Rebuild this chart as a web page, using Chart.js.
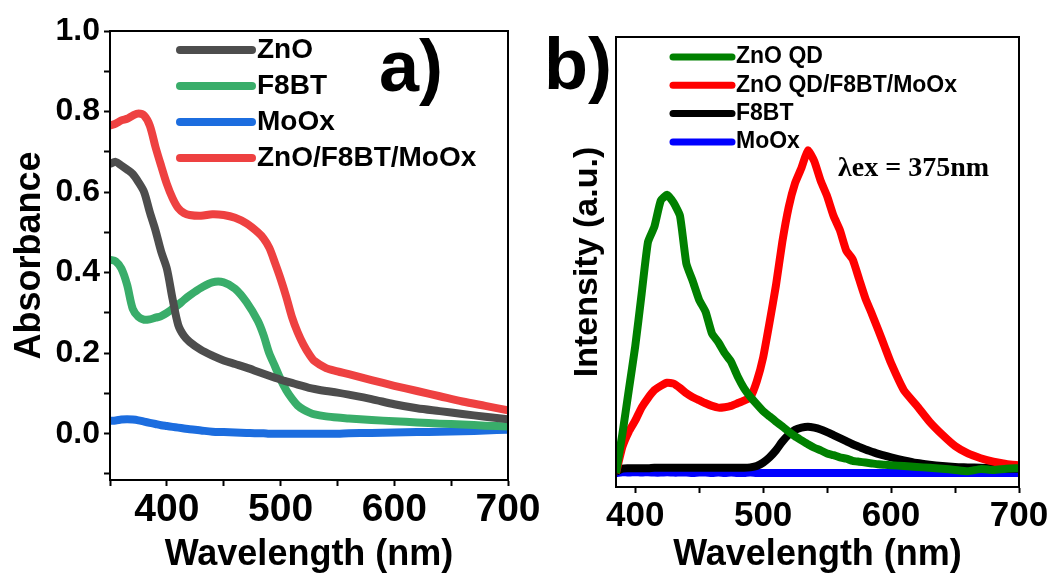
<!DOCTYPE html>
<html>
<head>
<meta charset="utf-8">
<script src="https://cdn.jsdelivr.net/npm/chart.js@4.4.0/dist/chart.umd.min.js"></script>
<style>
  body { margin: 0; background: #fff; }
  #wrap { position: relative; width: 1051px; height: 573px; overflow: hidden; }
  canvas { position: absolute; top: 0; }
  #absChart { left: 0; }
  #plChart { left: 530px; }
</style>
</head>
<body>
<div id="wrap">
  <canvas id="absChart" width="560" height="573"></canvas>
  <canvas id="plChart" width="521" height="573"></canvas>
</div>
<script>
// ---- panel a) absorbance ----
const absWavelength = [350, 355, 360, 365, 370, 375, 380, 385, 390, 395, 400, 405, 410, 415, 420,
  430, 440, 450, 460, 470, 480, 485, 490, 495, 500, 505, 510, 515, 520, 525, 530,
  540, 550, 560, 580, 600, 620, 640, 660, 680, 700];
const absZnO = [0.670, 0.675, 0.666, 0.656, 0.645, 0.625, 0.600, 0.550, 0.505, 0.452, 0.410, 0.335, 0.270, 0.243, 0.228,
  0.208, 0.194, 0.182, 0.173, 0.164, 0.154, 0.149, 0.144, 0.139, 0.134, 0.130, 0.126, 0.122, 0.118, 0.114, 0.111,
  0.106, 0.102, 0.097, 0.086, 0.073, 0.063, 0.056, 0.049, 0.042, 0.036];
const absF8BT = [0.432, 0.428, 0.410, 0.370, 0.310, 0.290, 0.283, 0.284, 0.288, 0.292, 0.300, 0.310, 0.320, 0.332, 0.343,
  0.362, 0.376, 0.376, 0.360, 0.327, 0.280, 0.245, 0.200, 0.168, 0.135, 0.108, 0.087, 0.070, 0.060, 0.053, 0.048,
  0.043, 0.040, 0.038, 0.034, 0.031, 0.028, 0.025, 0.023, 0.020, 0.018];
const absMoOx = [0.032, 0.033, 0.035, 0.036, 0.035, 0.033, 0.030, 0.027, 0.024, 0.021, 0.019, 0.017, 0.015, 0.013, 0.011,
  0.008, 0.005, 0.004, 0.003, 0.002, 0.001, 0.001, 0.000, 0.000, 0.000, 0.000, 0.000, 0.000, 0.000, 0.000, 0.000,
  0.000, 0.000, 0.001, 0.002, 0.003, 0.004, 0.005, 0.006, 0.008, 0.010];
const absStack = [0.765, 0.770, 0.778, 0.782, 0.790, 0.795, 0.790, 0.765, 0.712, 0.665, 0.620, 0.585, 0.560, 0.548, 0.543,
  0.541, 0.545, 0.543, 0.536, 0.522, 0.500, 0.485, 0.462, 0.425, 0.385, 0.340, 0.290, 0.252, 0.222, 0.198, 0.180,
  0.163, 0.155, 0.148, 0.133, 0.119, 0.106, 0.093, 0.080, 0.069, 0.058];

// ---- panel b) photoluminescence ----
const plWavelength = [385, 390, 395, 400, 405, 410, 415, 420, 425, 430, 435, 440, 445, 450, 455, 460, 465, 470, 475, 480,
  485, 490, 495, 500, 505, 510, 515, 520, 525, 530, 535, 540, 545, 550, 555, 560, 565, 570, 575, 580,
  585, 590, 595, 600, 610, 620, 630, 640, 650, 660, 670, 680, 690, 700];
const plZnOQD = [0.000, 0.090, 0.190, 0.290, 0.410, 0.530, 0.565, 0.625, 0.638, 0.620, 0.590, 0.480, 0.440, 0.397, 0.370, 0.320, 0.300, 0.275, 0.255, 0.222,
  0.195, 0.175, 0.158, 0.142, 0.130, 0.118, 0.107, 0.095, 0.084, 0.075, 0.066, 0.058, 0.052, 0.045, 0.041, 0.036, 0.033, 0.028, 0.026, 0.024,
  0.022, 0.020, 0.019, 0.018, 0.016, 0.014, 0.012, 0.010, 0.007, 0.004, 0.009, 0.007, 0.010, 0.011];
const plStack = [0.000, 0.060, 0.095, 0.120, 0.150, 0.172, 0.190, 0.200, 0.207, 0.205, 0.195, 0.183, 0.174, 0.167, 0.160, 0.154, 0.150, 0.151, 0.154, 0.160,
  0.166, 0.174, 0.210, 0.265, 0.345, 0.430, 0.530, 0.610, 0.665, 0.700, 0.740, 0.715, 0.670, 0.635, 0.590, 0.557, 0.510, 0.490, 0.445, 0.400,
  0.365, 0.328, 0.290, 0.252, 0.190, 0.155, 0.118, 0.088, 0.062, 0.045, 0.034, 0.026, 0.021, 0.018];
const plF8BT = [0.003, 0.010, 0.011, 0.011, 0.011, 0.011, 0.012, 0.012, 0.012, 0.012, 0.012, 0.012, 0.012, 0.012, 0.012, 0.012, 0.012, 0.012, 0.012, 0.012,
  0.012, 0.013, 0.016, 0.024, 0.036, 0.052, 0.072, 0.088, 0.099, 0.104, 0.106, 0.104, 0.100, 0.094, 0.087, 0.080, 0.073, 0.066, 0.060, 0.054,
  0.049, 0.044, 0.040, 0.036, 0.029, 0.023, 0.019, 0.016, 0.014, 0.013, 0.012, 0.011, 0.010, 0.010];
const plMoOx = [0.000, 0.002, 0.001, 0.002, 0.001, 0.002, 0.001, 0.001, 0.002, 0.001, 0.001, 0.001, 0.000, 0.001, 0.001, 0.000, 0.001, 0.000, 0.001, 0.000,
  0.000, 0.001, 0.000, 0.000, 0.000, 0.000, 0.000, 0.000, 0.000, 0.000, 0.000, 0.000, 0.000, 0.000, 0.000, 0.000, 0.000, 0.000, 0.000, 0.000,
  0.000, 0.000, 0.000, 0.000, 0.000, 0.000, 0.000, 0.000, 0.000, 0.000, 0.000, 0.000, 0.000, 0.000];

const SANS = '"Liberation Sans", Arial, sans-serif';
const SERIF = '"Liberation Serif", "Times New Roman", serif';

const pts = (xs, ys) => xs.map((x, i) => ({ x: x, y: ys[i] }));

function line(label, xs, ys, color, width, tension) {
  return {
    label: label,
    data: pts(xs, ys),
    borderColor: color,
    borderWidth: width,
    pointRadius: 0,
    tension: tension,
    fill: false
  };
}

// frame, in-plot legend, panel tag and note
const panelDecor = {
  id: 'panelDecor',
  afterDraw(chart, args, o) {
    const ctx = chart.ctx;
    const a = chart.chartArea;
    ctx.save();
    ctx.strokeStyle = '#000';
    ctx.lineWidth = 2;
    ctx.strokeRect(a.left, a.top, a.right - a.left, a.bottom - a.top);

    ctx.lineCap = 'round';
    ctx.textBaseline = 'middle';
    ctx.font = 'bold ' + o.legendSize + 'px ' + SANS;
    chart.data.datasets.forEach((ds, i) => {
      const y = o.legendY + i * o.legendGap;
      ctx.strokeStyle = ds.borderColor;
      ctx.lineWidth = o.legendWidth;
      ctx.beginPath();
      ctx.moveTo(o.legendX, y);
      ctx.lineTo(o.legendX + o.legendLen, y);
      ctx.stroke();
      ctx.fillStyle = '#000';
      ctx.fillText(ds.label, o.legendX + o.legendLen + o.legendPad, y);
    });

    ctx.textBaseline = 'alphabetic';
    ctx.font = 'bold ' + o.tagSize + 'px ' + SANS;
    ctx.fillText(o.tag, o.tagX, o.tagY);

    if (o.note) {
      ctx.textBaseline = 'middle';
      ctx.font = 'bold ' + o.noteSize + 'px ' + SERIF;
      ctx.fillText(o.note, o.noteX, o.noteY);
    }
    ctx.restore();
  }
};

const axisBase = {
  grid: { drawOnChartArea: false, drawTicks: true, tickLength: 6, tickWidth: 2, tickColor: '#000' },
  border: { color: '#000', width: 2 }
};

new Chart(document.getElementById('absChart'), {
  type: 'line',
  data: {
    datasets: [
      line('ZnO', absWavelength, absZnO, '#4d4d4d', 8, 0.3),
      line('F8BT', absWavelength, absF8BT, '#39ad6a', 8, 0.3),
      line('MoOx', absWavelength, absMoOx, '#1c6ddf', 8, 0.3),
      line('ZnO/F8BT/MoOx', absWavelength, absStack, '#ee4141', 8, 0.3)
    ]
  },
  options: {
    responsive: false,
    animation: false,
    devicePixelRatio: 1,
    layout: { padding: { left: 12, top: 31, right: 52, bottom: 0 } },
    plugins: {
      legend: { display: false },
      tooltip: { enabled: false },
      panelDecor: {
        legendX: 180, legendY: 50, legendGap: 36, legendLen: 72, legendPad: 5, legendWidth: 8, legendSize: 28,
        tag: 'a)', tagX: 379, tagY: 91, tagSize: 72
      }
    },
    scales: {
      x: {
        ...axisBase,
        type: 'linear', min: 350, max: 700,
        ticks: {
          stepSize: 50, includeBounds: false, autoSkip: false, maxRotation: 0, padding: 1, color: '#000',
          font: { family: SANS, size: 39, weight: 'bold' },
          callback: v => (v % 100 === 0 ? v : '')
        },
        title: { display: true, text: 'Wavelength (nm)', color: '#000', padding: 0,
          font: { family: SANS, size: 36, weight: 'bold', lineHeight: 1 } },
        afterFit: s => { s.height = 93; }
      },
      y: {
        ...axisBase,
        min: -0.115, max: 1.0,
        ticks: {
          stepSize: 0.1, includeBounds: false, autoSkip: false, padding: 4, color: '#000',
          font: { family: SANS, size: 32, weight: 'bold' },
          callback: v => (Math.round(v * 10) % 2 === 0 ? v.toFixed(1) : '')
        },
        title: { display: true, text: 'Absorbance', color: '#000', padding: 0,
          font: { family: SANS, size: 36, weight: 'bold', lineHeight: 1 } },
        afterFit: s => { s.width = 98; }
      }
    }
  },
  plugins: [panelDecor]
});

new Chart(document.getElementById('plChart'), {
  type: 'line',
  data: {
    datasets: [
      line('ZnO QD', plWavelength, plZnOQD, '#008000', 8, 0.15),
      line('ZnO QD/F8BT/MoOx', plWavelength, plStack, '#ff0000', 8, 0.15),
      line('F8BT', plWavelength, plF8BT, '#000000', 8, 0.3),
      line('MoOx', plWavelength, plMoOx, '#0000ff', 8, 0.3)
    ]
  },
  options: {
    responsive: false,
    animation: false,
    devicePixelRatio: 1,
    layout: { padding: { left: 41, top: 37, right: 32, bottom: 0 } },
    plugins: {
      legend: { display: false },
      tooltip: { enabled: false },
      panelDecor: {
        legendX: 143, legendY: 57, legendGap: 28.3, legendLen: 59, legendPad: 4, legendWidth: 7, legendSize: 23,
        tag: 'b)', tagX: 14, tagY: 89, tagSize: 72,
        note: '\u03bbex = 375nm', noteX: 308, noteY: 169, noteSize: 28
      }
    },
    scales: {
      x: {
        ...axisBase,
        type: 'linear', min: 385, max: 700,
        ticks: {
          stepSize: 50, includeBounds: false, autoSkip: false, maxRotation: 0, padding: 2, color: '#000',
          font: { family: SANS, size: 35, weight: 'bold' },
          callback: v => (v % 100 === 0 ? v : '')
        },
        title: { display: true, text: 'Wavelength (nm)', color: '#000', padding: 0,
          font: { family: SANS, size: 36, weight: 'bold', lineHeight: 1 } },
        afterFit: s => { s.height = 86; }
      },
      y: {
        min: -0.032, max: 1.0,
        grid: { drawOnChartArea: false, drawTicks: false },
        border: { color: '#000', width: 2 },
        ticks: { display: false },
        title: { display: true, text: 'Intensity (a.u.)', color: '#000', padding: 0,
          font: { family: SANS, size: 34, weight: 'bold', lineHeight: 1 } },
        afterFit: s => { s.width = 45; }
      }
    }
  },
  plugins: [panelDecor]
});
</script>
</body>
</html>
